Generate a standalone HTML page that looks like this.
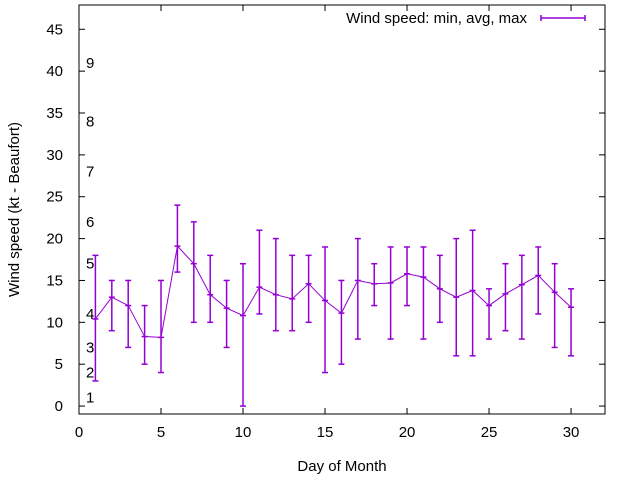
<!DOCTYPE html>
<html><head><meta charset="utf-8"><style>
body{margin:0;background:#fff}
svg{display:block;font-family:"Liberation Sans",sans-serif}
</style></head><body>
<svg id="c" width="640" height="480"></svg>
<script>
const days=[1,2,3,4,5,6,7,8,9,10,11,12,13,14,15,16,17,18,19,20,21,22,23,24,25,26,27,28,29,30];
const avgVals=[10.4,13,12,8.3,8.2,19.1,17,13.3,11.7,10.8,14.2,13.3,12.8,14.6,12.6,11.1,15,14.6,14.7,15.8,15.4,14,13,13.8,12,13.4,14.5,15.6,13.6,11.8];
const minVals=[3,9,7,5,4,16,10,10,7,0,11,9,9,10,4,5,8,12,8,12,8,10,6,6,8,9,8,11,7,6];
const maxVals=[18,15,15,12,15,24,22,18,15,17,21,20,18,18,19,15,20,17,19,19,19,18,20,21,14,17,18,19,17,14];
const xTicks=[0,5,10,15,20,25,30];
const yTicks=[0,5,10,15,20,25,30,35,40,45];
const bftLabels=["1","2","3","4","5","6","7","8","9"];
const bftKt=[1,4,7,11,17,22,28,34,41];

const NS="http://www.w3.org/2000/svg";
const svg=document.getElementById('c');
const L=79,R=605,T=5,B=414;
const xMin=0,xMax=32.07,yMin=-0.95,yMax=47.9;
const X=v=>L+(v-xMin)/(xMax-xMin)*(R-L);
const Y=v=>B-(v-yMin)/(yMax-yMin)*(B-T);
function el(t,a){const e=document.createElementNS(NS,t);for(const k in a)e.setAttribute(k,a[k]);svg.appendChild(e);return e;}
function line(x1,y1,x2,y2,c,w){return el('line',{x1,y1,x2,y2,stroke:c,'stroke-width':w||1});}
function text(x,y,s,anchor,extra){const t=el('text',Object.assign({x,y,'font-size':15,fill:'#000','text-anchor':anchor||'start'},extra||{}));t.textContent=s;return t;}

const frame=el('rect',{x:L,y:T,width:R-L,height:B-T,fill:'none',stroke:'#000','stroke-width':1});



xTicks.forEach(v=>{
  const x=X(v);
  const tk=line(x,B,x,B-6,'#000');
  
  
  const tk2=line(x,T,x,T+6,'#000');
  
  
  const t=text(x,B+23,String(v),'middle');
  
  
});
yTicks.forEach(v=>{
  const y=Y(v);
  const tk=line(L,y,L+6,y,'#000');
  
  
  const tk2=line(R,y,R-6,y,'#000');
  
  
  const t=text(L-16,y+5,String(v),'end');
  
  
});
bftLabels.forEach((s,i)=>{
  const t=text(86,Y(bftKt[i])+5,s,'start');
  
  
});

const xt=text((L+R)/2,471,'Day of Month','middle');


const yt=text(0,0,'Wind speed (kt - Beaufort)','middle',{transform:`translate(19,${(T+B)/2}) rotate(-90)`});



const col='#9400d3';
days.forEach((d,i)=>{
  const x=X(d);
  const g=line(x,Y(minVals[i]),x,Y(maxVals[i]),col,1.5);
  
  
  const c1=line(x-3,Y(minVals[i]),x+3,Y(minVals[i]),col,1.5);
  
  
  const c2=line(x-3,Y(maxVals[i]),x+3,Y(maxVals[i]),col,1.5);
  
  
  const c3=line(x-3,Y(avgVals[i]),x+3,Y(avgVals[i]),col,1.5);
  
  
});
const pl=el('polyline',{points:days.map((d,i)=>X(d)+','+Y(avgVals[i])).join(' '),fill:'none',stroke:col,'stroke-width':1});



const lt=text(527,23,'Wind speed: min, avg, max','end');


const ll=line(541,18,585,18,col,1.5);


const lc1=line(541,15,541,21,col,1.5);


const lc2=line(585,15,585,21,col,1.5);


</script>
</body></html>
